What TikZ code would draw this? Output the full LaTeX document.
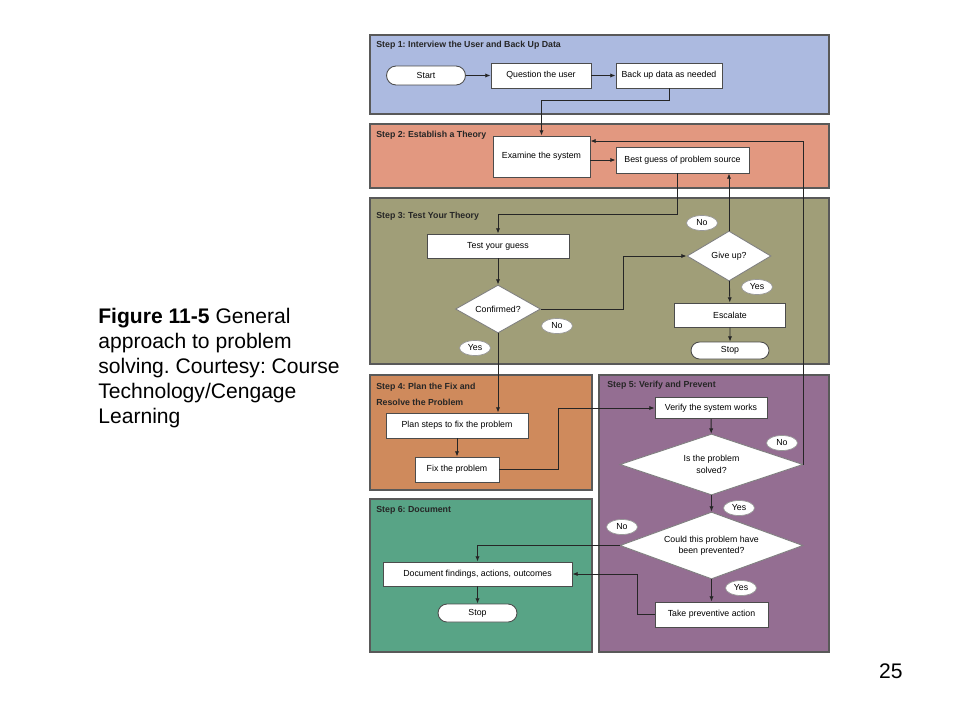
\documentclass[tikz,border=0pt]{standalone}
\usepackage{fontspec}
\setmainfont{Liberation Sans}
\usetikzlibrary{arrows.meta, positioning, shapes.geometric, shapes.misc}
\definecolor{s1color}{RGB}{172,186,224}
\definecolor{s2color}{RGB}{226,152,128}
\definecolor{s3color}{RGB}{160,158,120}
\definecolor{s4color}{RGB}{207,138,92}
\definecolor{s5color}{RGB}{148,110,146}
\definecolor{s6color}{RGB}{88,164,134}
\frenchspacing
\begin{document}
\begin{tikzpicture}[x=0.02cm, y=-0.02cm,
          panel/.style={draw=black!65, line width=0.8pt},
          title/.style={anchor=west, inner sep=0, font=\fontsize{5}{9}\selectfont\bfseries, text=black!85, align=left},
          proc/.style={draw=black!70, fill=white, line width=0.5pt, inner sep=0, font=\fontsize{5}{6}\selectfont},
          term/.style={rounded rectangle, draw=black!70, fill=white, line width=0.5pt, inner sep=0, font=\fontsize{5}{6}\selectfont},
          dec/.style={diamond, aspect=2, draw=black!50, fill=white, line width=0.5pt, inner sep=0, align=center, font=\fontsize{5}{6.5}\selectfont},
          lbl/.style={ellipse, draw=black!40, fill=white, line width=0.4pt, minimum width=0.62cm, minimum height=0.3cm, inner sep=0, font=\fontsize{5}{6}\selectfont},
          flow/.style={-{Latex[length=3pt, width=2.4pt]}, line width=0.5pt, draw=black!85}]
          \useasboundingbox (0,0) rectangle (960,720);

          % Panels
          \draw[panel, fill=s1color] (370,35) rectangle (829,114);
          \draw[panel, fill=s2color] (370,124) rectangle (829,188);
          \draw[panel, fill=s3color] (370,198) rectangle (829,364);
          \draw[panel, fill=s4color] (370,375) rectangle (592,490);
          \draw[panel, fill=s5color] (599,375) rectangle (829,652);
          \draw[panel, fill=s6color] (370,499) rectangle (592,652);

          \node[title] (t1) at (376,45) {Step 1: Interview the User and Back Up Data};
          \node[title] (t2) at (376,135) {Step 2: Establish a Theory};
          \node[title] (t3) at (376,216) {Step 3: Test Your Theory};
          \node[title] (t4) at (376,394) {Step 4: Plan the Fix and\\Resolve the Problem};
          \node[title] (t5) at (607,385) {Step 5: Verify and Prevent};
          \node[title] (t6) at (376,510) {Step 6: Document};

          % Nodes
          \node[term, minimum width=1.58cm, minimum height=0.38cm] (start) at (426,75.5) {Start};
          \node[proc, minimum width=2cm, minimum height=0.5cm] (question) at (541,75.5) {Question the user};
          \node[proc, minimum width=2.12cm, minimum height=0.5cm] (backup) at (669,75.5) {Back up data as needed};
          \node[proc, minimum width=1.94cm, minimum height=0.82cm] (examine) at (541.5,156.5) {Examine the system};
          \node[proc, minimum width=2.66cm, minimum height=0.52cm] (guess) at (682.5,160) {Best guess of problem source};
          \node[proc, minimum width=2.84cm, minimum height=0.48cm] (test) at (498,246) {Test your guess};
          \node[dec, minimum width=1.7cm, minimum height=0.96cm] (confirmed) at (498,309) {Confirmed?};
          \node[dec, minimum width=1.68cm, minimum height=1cm] (giveup) at (729,256) {Give up?};
          \node[proc, minimum width=2.22cm, minimum height=0.48cm] (escalate) at (730,315) {Escalate};
          \node[term, minimum width=1.56cm, minimum height=0.34cm] (stopA) at (730,350.5) {Stop};
          \node[proc, minimum width=2.84cm, minimum height=0.5cm] (plan) at (457,425.5) {Plan steps to fix the problem};
          \node[proc, minimum width=1.68cm, minimum height=0.5cm] (fix) at (457,469.5) {Fix the problem};
          \node[proc, minimum width=2.24cm, minimum height=0.42cm] (verify) at (711,408) {Verify the system works};
          \node[dec, minimum width=3.66cm, minimum height=1.22cm] (solved) at (711.5,464.5) {Is the problem\\solved?};
          \node[dec, minimum width=3.66cm, minimum height=1.18cm] (prevented) at (711.5,545.5) {Could this problem have\\been prevented?};
          \node[proc, minimum width=2.26cm, minimum height=0.5cm] (action) at (711.5,614.5) {Take preventive action};
          \node[proc, minimum width=3.78cm, minimum height=0.48cm] (document) at (477.5,574) {Document findings, actions, outcomes};
          \node[term, minimum width=1.58cm, minimum height=0.36cm] (stopB) at (477.5,613) {Stop};

          % Yes / No labels
          \node[lbl] (gNo) at (702,223) {No};
          \node[lbl] (gYes) at (757,287) {Yes};
          \node[lbl] (cNo) at (557,326) {No};
          \node[lbl] (cYes) at (475,348) {Yes};
          \node[lbl] (sNo) at (782,443) {No};
          \node[lbl] (sYes) at (739,508) {Yes};
          \node[lbl] (pNo) at (622,527) {No};
          \node[lbl] (pYes) at (741,588) {Yes};

          % Connectors
          \draw[flow] (start) -- (question);
          \draw[flow] (question) -- (backup);
          \draw[flow] (backup.south) -- ++(0,12) -| (examine.north);
          \draw[flow] (examine.east |- guess) -- (guess.west);
          \draw[flow] (solved.east) |- ([yshift=0.31cm]examine.east);
          \draw[flow] ([xshift=-0.11cm]guess.south) -- ++(0,41) -| (test.north);
          \draw[flow] (test) -- (confirmed);
          \draw[flow] (confirmed.east) -- ++(83,0) |- (giveup.west);
          \draw[flow] (giveup.north) -- (giveup.north |- guess.south);
          \draw[flow] (giveup) -- (escalate);
          \draw[flow] (escalate) -- (stopA);
          \draw[flow] (confirmed.south) -- (confirmed.south |- plan.north);
          \draw[flow] (plan) -- (fix);
          \draw[flow] (fix.east) -- ++(59,0) |- (verify.west);
          \draw[flow] (verify) -- (solved);
          \draw[flow] (solved) -- (prevented);
          \draw[flow] (prevented) -- (action);
          \draw[flow] (prevented.west) -| (document.north);
          \draw[flow] (action.west) -- ++(-17,0) |- (document.east);
          \draw[flow] (document) -- (stopB);

          % Caption and page number
          \node[anchor=base west, inner sep=0, align=left, font=\fontsize{12}{14.2}\selectfont] (caption) at (98,423)
            {\textbf{Figure 11-5} General\\approach to problem\\solving. Courtesy: Course\\Technology/Cengage\\Learning};
          \node[anchor=base east, inner sep=0, font=\fontsize{12}{14.2}\selectfont] (page) at (903,678) {25};
        \end{tikzpicture}
\end{document}
